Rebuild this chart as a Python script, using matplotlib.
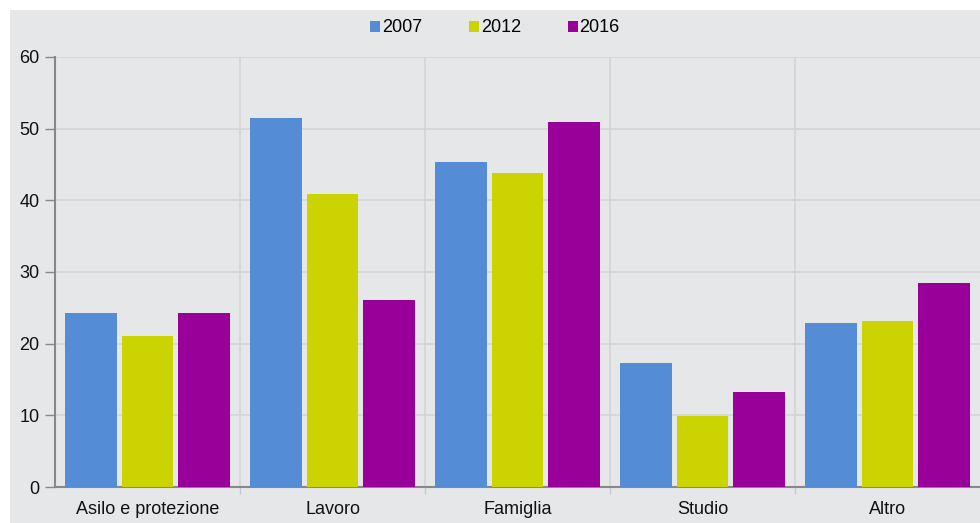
import numpy as np
import matplotlib.pyplot as plt
from matplotlib.patches import Rectangle, Patch
from matplotlib.ticker import FixedLocator

plt.rcParams['font.family'] = ['Liberation Sans', 'DejaVu Sans']

categories = ['Asilo e protezione', 'Lavoro', 'Famiglia', 'Studio', 'Altro']
years = ['2007', '2012', '2016']
v2007 = [24.3, 51.5, 45.3, 17.3, 22.9]
v2012 = [21.1, 40.9, 43.8, 9.9, 23.2]
v2016 = [24.3, 26.1, 50.9, 13.3, 28.5]
colors = ['#548dd6', '#cbd300', '#990099']

bg = '#e6e7e9'
fig = plt.figure(figsize=(9.8, 5.23), dpi=100, facecolor='white')
fig.patches.append(Rectangle((10 / 980, 0), 1, 1 - 10 / 523, transform=fig.transFigure,
                             facecolor=bg, edgecolor='none', zorder=-10))

ax = fig.add_axes([55 / 980, 36 / 523, 1 - 55 / 980, (487 - 57) / 523])
ax.set_facecolor(bg)

x = np.arange(len(categories))
w = 0.281
step = 0.305
for i, vals in enumerate([v2007, v2012, v2016]):
    ax.bar(x + (i - 1) * step, vals, width=w, color=colors[i], zorder=3)

ax.set_xlim(-0.5, len(categories) - 0.5)
ax.set_ylim(0, 60)
ax.set_yticks(range(0, 61, 10))
ax.set_xticks(x)
ax.set_xticklabels(categories)
ax.xaxis.set_minor_locator(FixedLocator(np.arange(0.5, len(categories) - 0.5, 1)))

ax.grid(axis='y', color='#d3d4d6', linewidth=1.2, zorder=0)
ax.grid(axis='x', which='minor', color='#d3d4d6', linewidth=1.2, zorder=0)
ax.tick_params(axis='x', which='major', length=0, labelsize=13, pad=10, colors='#111111')
ax.tick_params(axis='x', which='minor', length=5, width=1, color='#c8c9cb')
ax.tick_params(axis='y', length=7, width=1, color='#888888', labelsize=13, pad=4, labelcolor='#111111')

for s in ['top', 'right']:
    ax.spines[s].set_visible(False)
for s in ['left', 'bottom']:
    ax.spines[s].set_color('#888888')
    ax.spines[s].set_linewidth(1.5)

handles = [Patch(facecolor=c, edgecolor='none') for c in colors]
fig.legend(handles, years, loc='center', bbox_to_anchor=(0.505, 1 - 28 / 523), ncol=3,
           frameon=False, fontsize=13, handlelength=0.55, handleheight=0.55,
           handletextpad=0.1, columnspacing=2.6)

fig.savefig('out.png', dpi=100, facecolor='white')
